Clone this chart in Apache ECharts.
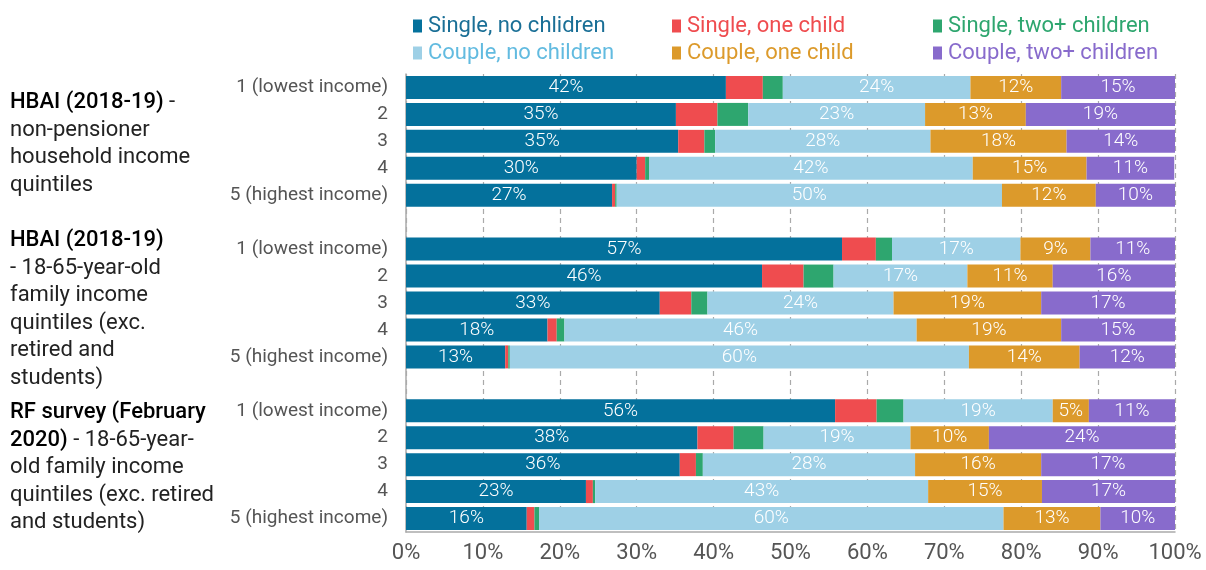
<!DOCTYPE html>
<html>
<head>
<meta charset="utf-8">
<script src="https://cdn.jsdelivr.net/npm/echarts@6/dist/echarts.min.js"></script>
<style>
  html, body { margin: 0; padding: 0; background: #fff; }
  #chart { width: 1206px; height: 570px; }
</style>
</head>
<body>
<div id="chart"></div>
<script>
// quintile labels, repeated for each of the three sources
var quintiles = ['1 (lowest income)', '2', '3', '4', '5 (highest income)'];

// shares (%) per household type, 15 bars: HBAI household, HBAI family, RF survey
var singleNone = [41.6, 35.1, 35.4, 30.0, 26.8, 56.7, 46.3, 33.0, 18.4, 12.9, 55.8, 37.9, 35.6, 23.4, 15.7];
var singleOne  = [4.8, 5.4, 3.4, 1.1, 0.4, 4.4, 5.4, 4.1, 1.2, 0.4, 5.4, 4.7, 2.1, 0.9, 1.0];
var singleTwo  = [2.6, 4.0, 1.4, 0.5, 0.2, 2.1, 3.9, 2.1, 1.0, 0.2, 3.5, 3.9, 0.9, 0.3, 0.6];
var coupleNone = [24.4, 23.0, 28.0, 42.1, 50.1, 16.7, 17.4, 24.2, 45.8, 59.7, 19.4, 19.1, 27.6, 43.3, 60.4];
var coupleOne  = [11.8, 13.1, 17.7, 14.8, 12.2, 9.1, 11.1, 19.2, 18.8, 14.4, 4.7, 10.2, 16.4, 14.8, 12.6];
var coupleTwo  = [14.8, 19.4, 14.1, 11.4, 10.3, 11.0, 15.9, 17.4, 14.8, 12.4, 11.2, 24.2, 17.4, 17.3, 9.7];

var seriesNames = ['Single, no chlidren', 'Single, one child', 'Single, two+ children',
                   'Couple, no children', 'Couple, one child', 'Couple, two+ children'];
var colors = ['#04719c', '#ef4c4f', '#2ea66f', '#9ed0e6', '#dc9a2b', '#886bcc'];
var legendText = ['#1a6f96', '#ef4c4f', '#2ea66f', '#62bbe0', '#dc9a2b', '#886bcc'];

// put an empty slot between the three groups of five bars
function withGaps (arr) {
  var out = [];
  for (var i = 0; i < arr.length; i++) {
    if (i > 0 && i % 5 === 0) out.push(null);
    out.push(arr[i]);
  }
  return out;
}
var categories = withGaps(quintiles.concat(quintiles, quintiles)).map(function (c) { return c === null ? '' : c; });

var chart = echarts.init(document.getElementById('chart'));
var font = 'Roboto, "Noto Sans", sans-serif';

var allData = [singleNone, singleOne, singleTwo, coupleNone, coupleOne, coupleTwo];
var labelled = [true, false, false, true, true, true];

var series = allData.map(function (d, i) {
  return {
    name: seriesNames[i],
    type: 'bar',
    stack: 'total',
    barWidth: 23,
    data: withGaps(d),
    itemStyle: { color: colors[i] },
    label: {
      show: labelled[i],
      position: 'inside',
      color: '#fff',
      fontFamily: font,
      fontSize: 19,
      fontWeight: 300,
      formatter: function (p) { return Math.round(p.value) + '%'; }
    },
    emphasis: { disabled: true }
  };
});

function legendCol (left, a, b) {
  return {
    orient: 'vertical',
    left: left,
    top: 10,
    itemWidth: 9,
    itemHeight: 13,
    itemGap: 5,
    icon: 'rect',
    selectedMode: false,
    textStyle: { fontFamily: font, fontSize: 22, padding: [0, 0, 0, 1] },
    data: [
      { name: seriesNames[a], textStyle: { color: legendText[a] } },
      { name: seriesNames[b], textStyle: { color: legendText[b] } }
    ]
  };
}

function groupTitle (top, text) {
  return {
    type: 'text',
    left: 10,
    top: top,
    style: {
      text: text,
      fill: '#222',
      fontFamily: font,
      fontSize: 22,
      lineHeight: 27.5,
      rich: {
        b: { fontFamily: font, fontSize: 22, fontWeight: 500, fill: '#000', lineHeight: 27.5 }
      }
    }
  };
}

chart.setOption({
  animation: false,
  color: colors,
  legend: [
    legendCol(408, 0, 3),
    legendCol(667, 1, 4),
    legendCol(928, 2, 5)
  ],
  grid: { left: 406, right: 31, top: 74, bottom: 38 },
  xAxis: {
    type: 'value',
    min: 0,
    max: 100,
    interval: 10,
    axisLine: { show: true, lineStyle: { color: '#aaa', width: 1.5 } },
    axisTick: { show: false },
    axisLabel: { formatter: '{value}%', fontFamily: font, fontSize: 22, color: '#555', margin: 10 },
    splitLine: { show: true, lineStyle: { color: '#aaa', type: [5, 4], width: 1.2 } }
  },
  yAxis: {
    type: 'category',
    inverse: true,
    data: categories,
    axisLine: { show: true, lineStyle: { color: '#aaa', width: 1.5 } },
    axisTick: { show: false },
    axisLabel: { fontFamily: font, fontSize: 19, color: '#555', margin: 18, interval: 0 }
  },
  graphic: [
    groupTitle(89, '{b|HBAI (2018-19)} -\nnon-pensioner\nhousehold income\nquintiles'),
    groupTitle(227, '{b|HBAI (2018-19)}\n- 18-65-year-old\nfamily income\nquintiles (exc.\nretired and\nstudents)'),
    groupTitle(399, '{b|RF survey (February}\n{b|2020)} - 18-65-year-\nold family income\nquintiles (exc. retired\nand students)')
  ],
  series: series
});
</script>
</body>
</html>
